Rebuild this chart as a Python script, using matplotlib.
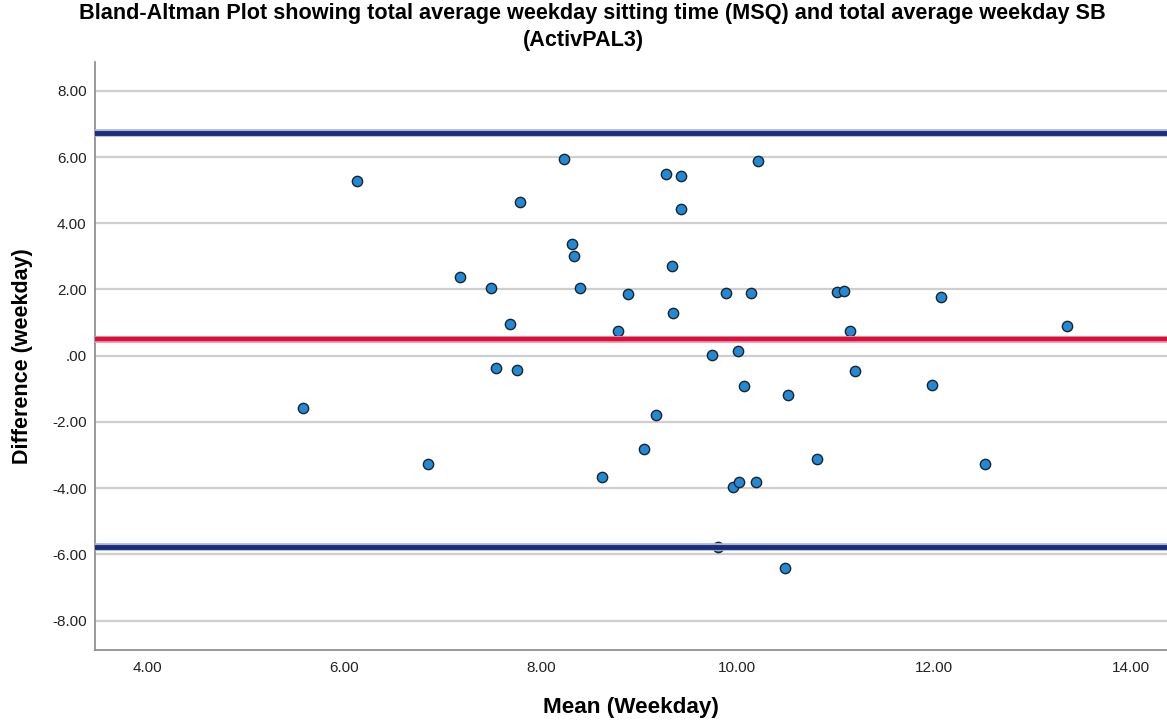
import numpy as np
import matplotlib.pyplot as plt

plt.rcParams['font.family'] = ['Liberation Sans', 'DejaVu Sans']

# --- Datos (media y diferencia por participante) ---
media_dia = [6.13, 8.24, 9.27, 9.43, 7.79, 9.43, 8.32, 8.34, 9.33, 7.18,
             7.49, 8.40, 8.89, 9.35, 7.69, 8.79, 7.54, 7.76, 10.21, 9.88,
             10.14, 11.01, 11.08, 12.07, 11.15, 13.35, 9.74, 10.01, 10.07, 10.51,
             11.20, 11.98, 10.81, 12.52, 9.96, 10.02, 10.19, 9.80, 10.48, 5.58,
             9.17, 9.05, 6.85, 8.62]
dif_dia = [5.28, 5.94, 5.49, 5.43, 4.63, 4.43, 3.38, 3.01, 2.72, 2.39,
           2.04, 2.04, 1.85, 1.28, 0.95, 0.76, -0.38, -0.42, 5.88, 1.88,
           1.90, 1.92, 1.96, 1.78, 0.76, 0.90, 0.02, 0.14, -0.92, -1.20,
           -0.46, -0.89, -3.12, -3.28, -3.97, -3.83, -3.83, -5.78, -6.40, -1.57,
           -1.78, -2.81, -3.26, -3.66]

# Líneas de referencia: sesgo medio y límites de acuerdo
sesgo = 0.49
limite_sup = 6.74
limite_inf = -5.78

x_ticks = [4, 6, 8, 10, 12, 14]
y_ticks = [-8, -6, -4, -2, 0, 2, 4, 6, 8]
y_labels = ['-8.00', '-6.00', '-4.00', '-2.00', '.00', '2.00', '4.00', '6.00', '8.00']

fig = plt.figure(figsize=(11.67, 7.22), dpi=100)
ax = fig.add_axes([0.0814, 0.0997, 0.9186, 0.8144])

ax.scatter(media_dia, dif_dia, s=55, color='#1e8ad9', edgecolors='#222222',
           linewidths=1.0, zorder=3)

# Límites de acuerdo (azul marino) y sesgo (rojo)
for yv in (limite_sup, limite_inf):
    ax.axhline(yv, color='#aab6d6', linewidth=5.5, zorder=4)
    ax.axhline(yv, color='#1a2c7c', linewidth=3.5, zorder=5)
ax.axhline(sesgo, color='#f2a0b0', linewidth=5.0, zorder=4)
ax.axhline(sesgo, color='#d8103c', linewidth=3.2, zorder=5)

ax.set_xlim(3.466, 14.37)
ax.set_ylim(-8.89, 8.87)
ax.set_xticks(x_ticks)
ax.set_xticklabels([f'{v:.2f}' for v in x_ticks])
ax.set_yticks(y_ticks)
ax.set_yticklabels(y_labels)
ax.tick_params(axis='both', length=0, labelsize=11, colors='#222222')
ax.tick_params(axis='x', pad=8)
ax.tick_params(axis='y', pad=6)

ax.yaxis.grid(True, color='#cfcfcf', linewidth=1.6, zorder=0)
ax.set_axisbelow(True)

for lado in ('top', 'right'):
    ax.spines[lado].set_visible(False)
for lado in ('left', 'bottom'):
    ax.spines[lado].set_color('#888888')
    ax.spines[lado].set_linewidth(1.2)

# Título en dos líneas (como en SPSS)
fig.text(0.508, 0.981, 'Bland-Altman Plot showing total average weekday sitting time (MSQ) and total average weekday SB',
         ha='center', va='center', fontsize=15.6, fontweight='bold')
fig.text(0.5, 0.944, '(ActivPAL3)', ha='center', va='center',
         fontsize=15.6, fontweight='bold')
fig.text(0.5408, 0.0194, 'Mean (Weekday)', ha='center', va='center',
         fontsize=16.2, fontweight='bold')
fig.text(0.0189, 0.507, 'Difference (weekday)', ha='center', va='center',
         rotation=90, fontsize=15.5, fontweight='bold')

plt.savefig('out.png', dpi=100)
plt.close()
